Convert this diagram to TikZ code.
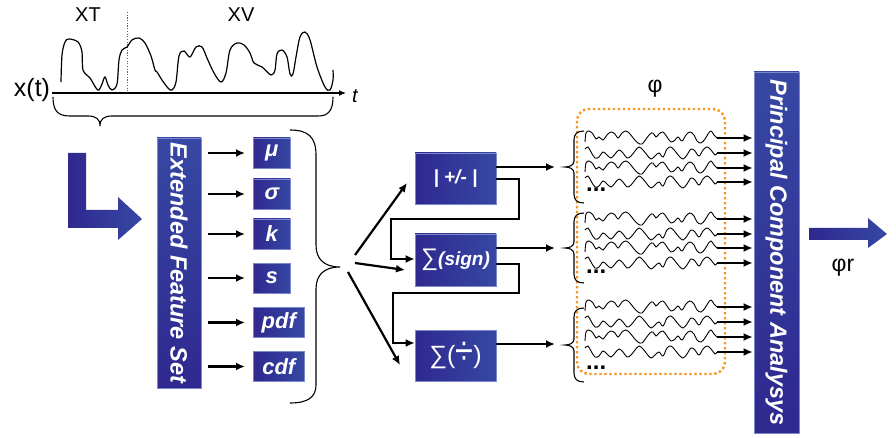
\documentclass[tikz,border=0pt]{standalone}
\usepackage{fontspec}
\usepackage{graphicx}
\setmainfont{Liberation Sans}
\usetikzlibrary{arrows.meta,calc}
\definecolor{bL}{RGB}{47,40,143}
\definecolor{bR}{RGB}{54,72,163}
\definecolor{bEdge}{RGB}{125,135,205}
\definecolor{orng}{RGB}{247,148,29}
\definecolor{sigred}{RGB}{225,45,45}
\newcommand\fs[1]{\fontsize{#1}{#1}\selectfont}
\begin{document}
\begin{tikzpicture}[x=1pt,y=-1pt,
  bluebox/.style={draw=bEdge, line width=0.6pt, left color=bL, right color=bR, text=white, inner sep=0pt},
  vbar/.style={draw=bEdge, line width=0.6pt, bottom color=bL, top color=bR, text=white, rotate=-90, inner sep=0pt, font=\fs{23.5}\bfseries\itshape},
  arr/.style={-{Latex[length=9pt,width=8pt]}, line width=2.2pt},
  fb/.style={line width=2.2pt},
  wavy/.style={line width=0.9pt},
  brc/.style={line width=1.1pt},
  lab/.style={inner sep=0pt}
]
\useasboundingbox (0,0) rectangle (896,438);

% ---------- signal ----------
\node[lab, font=\fs{20}] (XT) at (88,15) {XT};
\node[lab, font=\fs{20}] (XV) at (241,15) {XV};
\node[lab, font=\fs{25}] (xt) at (32,90) {x(t)};
\node[lab, font=\fs{20}\itshape] (tl) at (355,96) {t};
\coordinate (ax0) at (52,93);
\coordinate (ax1) at (346,93);
\draw[line width=1.1pt, -{Latex[length=7pt,width=6pt]}] (ax0) -- (ax1);
\draw[sigred, line width=1pt, dash pattern=on 1.2pt off 1.5pt] (127,12) -- (127,93);
\draw[line width=1.2pt] plot[smooth, tension=0.55] coordinates {
 (61,82) (62,55) (65,42) (69,39) (78,42) (82,52) (83,70) (90,78) (96,88) (99,90) (102,84) (105,77) (108,85) (112,90) (117,84) (119,60) (122,50) (127,47) (132,40) (139,38) (145,43) (151,56) (155,70) (157,72) (162,80) (168,88) (172,90) (176,82) (179,56) (184,51) (190,57) (196,47) (202,47) (207,58) (214,73) (221,82) (226,73) (230,50) (237,43) (244,45) (250,53) (254,63) (262,67) (271,75) (275,70) (277,54) (282,50) (287,57) (290,74) (293,74) (296,57) (300,37) (305,32) (310,40) (317,67) (325,87) (330,90) (333,80) (333,70)};
\draw[brc] (53,97) .. controls (53,111) and (58,116) .. (70,116) -- (88,116)
  .. controls (96,116) and (100,119) .. (100,126)
  .. controls (100,119) and (104,116) .. (112,116) -- (318,116)
  .. controls (328,116) and (333,111) .. (333,97);

% ---------- L arrow ----------
\path[left color=bL, right color=bR] (68,153) -- (86,153) -- (86,210) -- (118,210) -- (118,197) -- (142,219) -- (118,240) -- (118,228) -- (68,228) -- cycle;

% ---------- feature set ----------
\node[vbar, minimum width=250pt, minimum height=44pt] (efs) at (179,263) {Extended Feature Set};
\foreach \nm/\txt/\y/\w in {mu/μ/153/37, sg/σ/194/37, kk/k/234/37, ss/s/278/37, pdf/pdf/322.5/51, cdf/cdf/366.5/51} {
  \node[bluebox, minimum width=\w pt, minimum height=30pt, anchor=west, font=\fs{22}\bfseries\itshape] (\nm) at (253,\y) {\txt};
  \draw[arr, shorten <=7pt, shorten >=8pt] (efs.north |- \nm.west) -- (\nm.west);
}
\draw[brc] (290,130) .. controls (308,130) and (316,137) .. (316,155) -- (316,245)
  .. controls (316,259) and (324,267) .. (340,267)
  .. controls (324,267) and (316,275) .. (316,289) -- (316,385)
  .. controls (316,397) and (308,403) .. (290,403);

% ---------- operations ----------
\node[bluebox, minimum width=81pt, minimum height=51pt, font=\fs{19}\bfseries\itshape] (op1) at (455.5,178.5) {| +/- |};
\node[bluebox, minimum width=81pt, minimum height=52pt, font=\fs{19}\bfseries\itshape] (op2) at (455.5,260) {{\normalfont\fs{24}∑}(sign)};
\node[bluebox, minimum width=81pt, minimum height=51pt, font=\fs{25}] (op3) at (455.5,355.5) {∑(\raisebox{-1pt}{\scalebox{1.3}[1.6]{÷}})};

\coordinate (f1s) at (355,255); \coordinate (f1e) at (407,183);
\coordinate (f2s) at (355,263); \coordinate (f2e) at (405,270);
\coordinate (f3s) at (348,272); \coordinate (f3e) at (400,365);
\draw[arr] (f1s) -- (f1e);
\draw[arr] (f2s) -- (f2e);
\draw[arr] (f3s) -- (f3e);

\coordinate (o1) at (555,167); \coordinate (o2) at (555,248); \coordinate (o3) at (555,344);
\draw[arr] (op1.east |- o1) -- (o1);
\draw[arr] (op2.east |- o2) -- (o2);
\draw[arr] (op3.east |- o3) -- (o3);

\draw[fb, -{Latex[length=9pt,width=8pt]}] (op1.east |- 0,179) -- (519,179) -- (519,219) -- (391,219) -- (391,259) -- (op2.west |- 0,259);
\draw[fb, -{Latex[length=9pt,width=8pt]}] (op2.east |- 0,264) -- (519,264) -- (519,293) -- (393,293) -- (393,343) -- (op3.west |- 0,343);

% ---------- phi block ----------
\node[lab, font=\fs{23}] (phi) at (655,89) {φ};
\draw[orng, line width=2.4pt, dash pattern=on 2.4pt off 2.6pt, rounded corners=12pt] (577,109) rectangle (725,374);

\node[vbar, minimum width=361pt, minimum height=45pt] (pca) at (776.5,252.5) {Principal Component Analysys};

\foreach \y [count=\i] in {138,153,168,182,219,234,248,263,307,322,337,352} {
  \coordinate (w\i) at (717,\y);
  \ifodd\i
    \draw[wavy, shift={(585,\y)}] plot[smooth, tension=0.6] coordinates {(0,4) (1,-5) (4,-7) (8,-4) (11,1) (14,-1) (18,2) (22,-3) (26,-6) (30,-4) (33,0) (37,-5) (41,-7) (45,-4) (49,1) (53,5) (57,6) (61,1) (65,-4) (68,-5) (71,-1) (74,-4) (78,-6) (82,-1) (86,4) (90,2) (93,-1) (97,3) (101,-3) (105,-6) (109,-3) (112,3) (116,5) (120,1) (123,-4) (126,-7) (129,-3) (132,0)};
  \else
    \draw[wavy, shift={(585,\y)}] plot[smooth, tension=0.6] coordinates {(0,-4) (3,-6) (6,-1) (10,5) (14,4) (18,-1) (22,2) (26,5) (30,1) (34,-3) (38,0) (42,5) (46,3) (50,-2) (54,-6) (58,-3) (62,2) (66,6) (70,3) (74,0) (78,4) (82,-4) (86,-6) (90,-2) (94,3) (98,6) (102,2) (106,-4) (110,-2) (114,3) (118,-3) (122,-6) (126,-3) (130,2) (132,0)};
  \fi
  \draw[arr, shorten >=1pt] (w\i) -- (w\i -| pca.south);
}
% group braces
\foreach \t/\m/\b in {131/167/203, 213/248/283, 308/345/382} {
  \draw[brc] (584,\t) .. controls (577,\t) and (574,\t+3) .. (574,\t+9) -- (574,\m-6)
    .. controls (574,\m-2) and (570,\m) .. (565,\m)
    .. controls (570,\m) and (574,\m+2) .. (574,\m+6) -- (574,\b-9)
    .. controls (574,\b-3) and (577,\b) .. (584,\b);
}
\node[lab, font=\fs{24}\bfseries, anchor=west] (d1) at (586,190) {...};
\node[lab, font=\fs{24}\bfseries, anchor=west] (d2) at (586,272) {...};
\node[lab, font=\fs{24}\bfseries, anchor=west] (d3) at (586,368) {...};

% ---------- output arrow ----------
\path[left color=bL, right color=bR] (809,228) -- (868,228) -- (868,218) -- (887,234) -- (868,248) -- (868,240) -- (809,240) -- cycle;
\node[lab, font=\fs{23}] (phir) at (843,268) {φr};
\end{tikzpicture}
\end{document}
